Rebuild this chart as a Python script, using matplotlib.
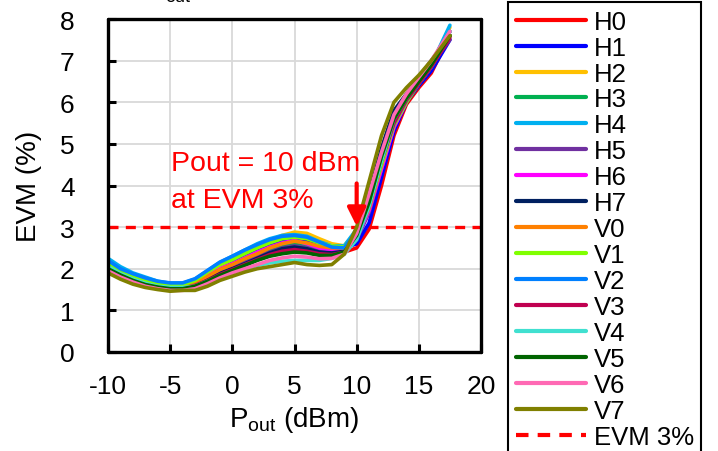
import matplotlib
matplotlib.use("Agg")
import matplotlib.pyplot as plt

plt.rcParams['font.family'] = ['Liberation Sans', 'DejaVu Sans']
plt.rcParams['mathtext.fontset'] = 'custom'
plt.rcParams['mathtext.rm'] = 'Liberation Sans'
plt.rcParams['axes.unicode_minus'] = False

x_dbm = [-10, -9, -8, -7, -6, -5, -4, -3, -2, -1, 0, 1, 2, 3, 4, 5, 6, 7, 8, 9, 10,
         11, 12, 13, 14, 15, 16, 17.5]

series_names = ["H0", "H1", "H2", "H3", "H4", "H5", "H6", "H7",
                "V0", "V1", "V2", "V3", "V4", "V5", "V6", "V7"]

H0 = [2.05, 1.9, 1.77, 1.67, 1.6, 1.56, 1.56, 1.62, 1.75, 1.9, 2.0, 2.12, 2.24, 2.35, 2.42, 2.46, 2.42, 2.36, 2.35, 2.4, 2.5, 2.95, 4.0, 5.2, 5.95, 6.35, 6.7, 7.6]
H1 = [2.1, 1.95, 1.82, 1.72, 1.65, 1.6, 1.6, 1.68, 1.85, 2.02, 2.15, 2.3, 2.42, 2.55, 2.65, 2.68, 2.65, 2.55, 2.5, 2.5, 2.6, 3.1, 4.2, 5.3, 6.0, 6.4, 6.75, 7.5]
H2 = [2.15, 1.98, 1.85, 1.75, 1.68, 1.62, 1.62, 1.7, 1.9, 2.08, 2.22, 2.38, 2.52, 2.68, 2.8, 2.88, 2.85, 2.72, 2.6, 2.55, 2.9, 3.6, 4.6, 5.5, 6.05, 6.5, 6.9, 7.8]
H3 = [2.05, 1.9, 1.78, 1.68, 1.62, 1.58, 1.58, 1.65, 1.8, 1.95, 2.08, 2.2, 2.32, 2.45, 2.55, 2.6, 2.56, 2.48, 2.42, 2.45, 2.8, 3.5, 4.5, 5.45, 6.0, 6.45, 6.85, 7.6]
H4 = [2.25, 2.05, 1.9, 1.8, 1.7, 1.65, 1.65, 1.75, 1.95, 2.15, 2.3, 2.45, 2.6, 2.72, 2.8, 2.82, 2.78, 2.65, 2.55, 2.55, 2.95, 3.7, 4.7, 5.6, 6.1, 6.5, 6.9, 7.85]
H5 = [2.0, 1.85, 1.74, 1.65, 1.6, 1.56, 1.56, 1.62, 1.76, 1.9, 2.02, 2.15, 2.28, 2.4, 2.5, 2.55, 2.5, 2.42, 2.38, 2.4, 2.7, 3.35, 4.4, 5.4, 6.0, 6.45, 6.9, 7.5]
H6 = [2.15, 1.98, 1.85, 1.75, 1.68, 1.62, 1.62, 1.7, 1.85, 2.0, 2.12, 2.26, 2.4, 2.52, 2.62, 2.68, 2.6, 2.5, 2.45, 2.45, 2.75, 3.4, 4.4, 5.4, 6.0, 6.5, 6.95, 7.7]
H7 = [2.05, 1.9, 1.76, 1.66, 1.6, 1.56, 1.56, 1.62, 1.76, 1.9, 2.0, 2.12, 2.25, 2.38, 2.48, 2.52, 2.48, 2.4, 2.38, 2.42, 2.9, 3.8, 4.9, 5.8, 6.2, 6.6, 7.0, 7.6]
V0 = [2.1, 1.95, 1.8, 1.7, 1.64, 1.6, 1.6, 1.67, 1.82, 1.98, 2.1, 2.24, 2.36, 2.5, 2.6, 2.66, 2.62, 2.54, 2.5, 2.5, 2.8, 3.45, 4.5, 5.5, 6.1, 6.5, 6.9, 7.7]
V1 = [2.1, 1.95, 1.82, 1.72, 1.65, 1.6, 1.62, 1.72, 1.92, 2.1, 2.22, 2.36, 2.5, 2.62, 2.72, 2.76, 2.72, 2.62, 2.55, 2.52, 2.85, 3.5, 4.5, 5.45, 6.0, 6.45, 6.85, 7.6]
V2 = [2.2, 2.0, 1.88, 1.78, 1.7, 1.66, 1.66, 1.76, 1.96, 2.16, 2.3, 2.45, 2.58, 2.7, 2.78, 2.8, 2.76, 2.64, 2.52, 2.5, 2.9, 3.6, 4.6, 5.5, 6.05, 6.45, 6.85, 7.7]
V3 = [2.0, 1.85, 1.72, 1.63, 1.57, 1.53, 1.53, 1.6, 1.72, 1.86, 1.98, 2.1, 2.22, 2.34, 2.42, 2.46, 2.42, 2.36, 2.34, 2.4, 2.75, 3.5, 4.6, 5.5, 6.05, 6.45, 6.85, 7.55]
V4 = [2.05, 1.88, 1.75, 1.65, 1.58, 1.55, 1.55, 1.58, 1.7, 1.82, 1.92, 2.0, 2.08, 2.14, 2.18, 2.2, 2.2, 2.2, 2.25, 2.35, 2.7, 3.5, 4.6, 5.6, 6.1, 6.55, 6.95, 7.7]
V5 = [2.0, 1.85, 1.72, 1.62, 1.56, 1.52, 1.52, 1.58, 1.7, 1.84, 1.96, 2.08, 2.2, 2.3, 2.36, 2.4, 2.38, 2.32, 2.32, 2.4, 2.8, 3.6, 4.7, 5.6, 6.1, 6.5, 6.9, 7.6]
V6 = [1.95, 1.8, 1.68, 1.58, 1.52, 1.48, 1.48, 1.52, 1.64, 1.78, 1.9, 2.0, 2.1, 2.2, 2.26, 2.3, 2.28, 2.24, 2.25, 2.35, 2.85, 3.8, 4.8, 5.7, 6.2, 6.6, 7.0, 7.7]
V7 = [1.9, 1.75, 1.63, 1.55, 1.5, 1.46, 1.48, 1.48, 1.58, 1.72, 1.82, 1.92, 2.0, 2.05, 2.1, 2.15, 2.1, 2.08, 2.1, 2.35, 3.0, 4.1, 5.2, 6.0, 6.35, 6.65, 7.0, 7.6]

series_values = [H0, H1, H2, H3, H4, H5, H6, H7, V0, V1, V2, V3, V4, V5, V6, V7]
series_colors = ["#FF0000", "#0000FF", "#FFC000", "#00B050", "#00B0F0", "#7030A0",
                 "#FF00FF", "#002060", "#FF8000", "#80FF00", "#0080FF", "#C00050",
                 "#40E0D0", "#006400", "#FF69B4", "#808000"]

evm_limit = 3
x_ticks = [-10, -5, 0, 5, 10, 15, 20]
y_ticks = [0, 1, 2, 3, 4, 5, 6, 7, 8]
annot_x = 10

fig = plt.figure(figsize=(7.18, 4.52), dpi=100)
ax = fig.add_axes([108/718, 1-353/452, (481-108)/718, (353-20)/452])

for name, vals, col in zip(series_names, series_values, series_colors):
    ax.plot(x_dbm, vals, color=col, lw=2.6, label=name, solid_capstyle='round',
            solid_joinstyle='round')
ax.axhline(evm_limit, color='#FF0000', lw=2.4, ls=(0, (3, 2.2)), label='EVM 3%', zorder=1.5)

ax.annotate('', xy=(annot_x, evm_limit + 0.02), xytext=(annot_x, 4.05),
            arrowprops=dict(arrowstyle='-|>,head_width=0.55,head_length=1.1',
                            color='#FF0000', lw=3, shrinkA=0, shrinkB=0))
ax.text(-4.95, 4.53, 'Pout = 10 dBm', color='#FF0000', fontsize=20.5, va='center', ha='left')
ax.text(-4.95, 3.64, 'at EVM 3%', color='#FF0000', fontsize=20.5, va='center', ha='left')

ax.set_xlim(-10, 20)
ax.set_ylim(0, 8)
ax.set_xticks(x_ticks)
ax.set_yticks(y_ticks)
ax.grid(True, color='#D9D9D9', lw=1.3)
ax.set_axisbelow(True)
for s in ax.spines.values():
    s.set_linewidth(2.4)
    s.set_capstyle('round')
ax.tick_params(axis='both', direction='in', length=6, width=2.2, labelsize=19,
               top=False, right=False)
ax.tick_params(axis='y', pad=24)
ax.tick_params(axis='x', pad=16)
ax.set_ylabel('EVM (%)', fontsize=20, labelpad=13)
ax.set_xlabel(r'$\mathregular{P_{out}}$ (dBm)', fontsize=20, labelpad=4)

fig.text(178/718, 1-6/452, 'out', fontsize=13, ha='center', va='bottom')

leg = fig.legend(loc='upper left', bbox_to_anchor=(508/718, 1-3/452), fontsize=18.5,
                 frameon=True, fancybox=False, edgecolor='black', framealpha=1,
                 handlelength=2.73, handletextpad=0.3, labelspacing=0.075,
                 borderpad=0.3, borderaxespad=0)
leg.get_frame().set_linewidth(1.5)
for h in leg.get_lines():
    h.set_linewidth(3)

fig.savefig('out.png', dpi=100)
